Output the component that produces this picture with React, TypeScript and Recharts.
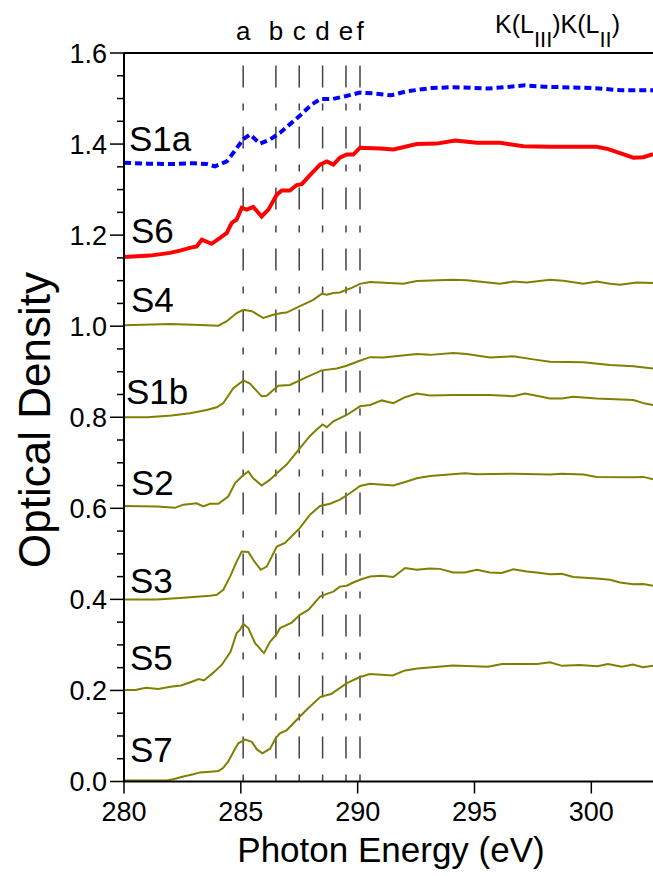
import { LineChart, Line, XAxis, YAxis, ReferenceLine } from "recharts";

// [photon energy (eV), optical density]
const S1A: [number, number][] = [
  [280, 1.359], [281, 1.357], [282, 1.356], [283, 1.358], [283.54, 1.356], [283.89, 1.351],
  [284.4, 1.362], [284.68, 1.381], [285.11, 1.411], [285.39, 1.421], [285.82, 1.401],
  [286.25, 1.41], [286.68, 1.425], [287.25, 1.45], [287.58, 1.465], [288.03, 1.487],
  [288.41, 1.499], [288.94, 1.499], [289.47, 1.505], [290.1, 1.513], [290.74, 1.511],
  [291.43, 1.507], [292.11, 1.516], [293.17, 1.523], [294.07, 1.525], [295.58, 1.522],
  [296.33, 1.525], [297.16, 1.529], [297.99, 1.526], [300.11, 1.523], [301.31, 1.518],
  [302.64, 1.518],
];

const S6: [number, number][] = [
  [280, 1.152], [281.11, 1.155], [281.97, 1.161], [282.4, 1.166], [282.82, 1.172],
  [283.11, 1.175], [283.33, 1.19], [283.75, 1.181], [284.11, 1.194], [284.4, 1.205],
  [284.61, 1.227], [284.82, 1.234], [285.04, 1.26], [285.25, 1.256], [285.53, 1.262],
  [285.89, 1.241], [286.18, 1.256], [286.54, 1.289], [286.75, 1.298], [287.1, 1.298],
  [287.39, 1.31], [287.61, 1.312], [287.89, 1.328], [288.39, 1.355], [288.68, 1.362],
  [288.96, 1.355], [289.24, 1.37], [289.53, 1.377], [289.81, 1.377], [290.1, 1.392],
  [290.96, 1.39], [291.53, 1.388], [292.53, 1.4], [293.38, 1.401], [294.17, 1.408],
  [295.1, 1.403], [296.09, 1.403], [297.09, 1.395], [298.23, 1.394], [300.23, 1.394],
  [300.73, 1.389], [301.8, 1.37], [302.23, 1.371], [302.64, 1.378],
];

const S4: [number, number][] = [
  [280, 1.002], [281.97, 1.005], [282.97, 1.003], [284.04, 1.001], [284.4, 1.011],
  [284.82, 1.029], [285.11, 1.036], [285.47, 1.033], [285.96, 1.018], [286.39, 1.025],
  [286.75, 1.029], [286.96, 1.03], [287.53, 1.044], [288.1, 1.058], [288.46, 1.071],
  [288.68, 1.069], [288.96, 1.073], [289.24, 1.074], [289.53, 1.08], [289.75, 1.084],
  [290.1, 1.093], [290.53, 1.097], [291.95, 1.093], [292.53, 1.099], [294.09, 1.102],
  [294.67, 1.101], [296.09, 1.093], [296.66, 1.098], [297.24, 1.096], [298.23, 1.102],
  [298.8, 1.1], [299.66, 1.093], [300.23, 1.098], [300.8, 1.093], [301.23, 1.091],
  [301.94, 1.096], [302.64, 1.095],
];

const S1B: [number, number][] = [
  [280, 0.8], [281, 0.8], [282.04, 0.804], [282.82, 0.809], [283.54, 0.816], [283.97, 0.822],
  [284.25, 0.831], [284.68, 0.864], [285.11, 0.881], [285.39, 0.874], [285.89, 0.846],
  [286.11, 0.847], [286.6, 0.869], [287.1, 0.871], [287.82, 0.888], [288.46, 0.903],
  [289.1, 0.907], [289.53, 0.913], [290.03, 0.923], [290.53, 0.932], [291.1, 0.931],
  [292.53, 0.939], [293.1, 0.937], [294.09, 0.941], [294.67, 0.939], [295.66, 0.931],
  [296.66, 0.934], [297.66, 0.926], [298.23, 0.922], [299.66, 0.921], [300.8, 0.915],
  [301.8, 0.912], [302.64, 0.907],
];

const S2: [number, number][] = [
  [280, 0.605], [281.4, 0.604], [282.18, 0.601], [282.54, 0.608], [283.11, 0.611],
  [283.39, 0.604], [283.68, 0.61], [284.04, 0.61], [284.46, 0.626], [284.75, 0.655],
  [285.04, 0.67], [285.32, 0.681], [285.53, 0.666], [285.89, 0.65], [286.25, 0.663],
  [286.54, 0.677], [286.96, 0.696], [287.53, 0.732], [287.96, 0.759], [288.25, 0.773],
  [288.5, 0.784], [288.68, 0.778], [288.96, 0.791], [289.53, 0.805], [290.1, 0.824],
  [290.53, 0.827], [291.03, 0.837], [291.53, 0.831], [292.03, 0.844], [292.53, 0.852],
  [293.1, 0.848], [294.09, 0.849], [295.66, 0.849], [296.66, 0.846], [297.16, 0.852],
  [297.66, 0.847], [298.23, 0.841], [298.73, 0.841], [299.23, 0.845], [300.23, 0.841],
  [301.8, 0.838], [302.3, 0.83], [302.64, 0.827],
];

const S3: [number, number][] = [
  [280, 0.4], [281.4, 0.4], [282.4, 0.403], [283.11, 0.406], [283.68, 0.408], [283.97, 0.41],
  [284.25, 0.421], [284.54, 0.45], [284.82, 0.483], [285.04, 0.505], [285.32, 0.504],
  [285.53, 0.487], [285.85, 0.465], [286.11, 0.472], [286.54, 0.516], [286.89, 0.524],
  [287.53, 0.557], [287.96, 0.586], [288.39, 0.605], [288.82, 0.61], [289.24, 0.619],
  [289.67, 0.633], [290.1, 0.649], [290.53, 0.654], [291.53, 0.65], [292.1, 0.659],
  [292.53, 0.666], [293.1, 0.671], [294.59, 0.677], [295.1, 0.675], [296.66, 0.676],
  [298.23, 0.674], [298.73, 0.676], [299.66, 0.674], [300.23, 0.669], [301.8, 0.668],
  [302.23, 0.669], [302.64, 0.664],
];

const S5: [number, number][] = [
  [280, 0.201], [280.48, 0.201], [280.94, 0.206], [281.46, 0.203], [281.99, 0.208],
  [282.44, 0.211], [282.9, 0.219], [283.2, 0.225], [283.42, 0.222], [283.8, 0.238],
  [284.18, 0.256], [284.56, 0.285], [284.82, 0.326], [284.96, 0.333], [285.11, 0.346],
  [285.32, 0.337], [285.61, 0.304], [285.99, 0.282], [286.25, 0.307], [286.54, 0.324],
  [286.68, 0.337], [287.18, 0.349], [287.53, 0.366], [287.89, 0.377], [288.39, 0.406],
  [288.68, 0.412], [288.96, 0.417], [289.24, 0.428], [289.53, 0.43], [289.81, 0.437],
  [290.1, 0.443], [290.53, 0.45], [291.03, 0.452], [291.53, 0.449], [292.03, 0.469],
  [292.53, 0.465], [293.1, 0.468], [293.52, 0.467], [294.09, 0.459], [294.59, 0.459],
  [295.1, 0.465], [295.66, 0.459], [296.16, 0.458], [296.66, 0.466], [297.24, 0.461],
  [297.66, 0.459], [298.23, 0.455], [298.73, 0.456], [299.23, 0.449], [300.23, 0.446],
  [300.8, 0.443], [301.23, 0.437], [301.8, 0.433], [302.23, 0.434], [302.64, 0.43],
];

const S7: [number, number][] = [
  [280, 0.002], [281.83, 0.002], [282.11, 0.005], [282.54, 0.011], [282.97, 0.016],
  [283.25, 0.02], [283.82, 0.022], [284.04, 0.023], [284.25, 0.03], [284.46, 0.044],
  [284.68, 0.065], [284.89, 0.084], [285.18, 0.092], [285.47, 0.087], [285.68, 0.071],
  [285.92, 0.062], [286.25, 0.072], [286.49, 0.095], [286.67, 0.106], [286.97, 0.113],
  [287.5, 0.141], [287.88, 0.161], [288.41, 0.186], [288.86, 0.192], [289.54, 0.216],
  [290.07, 0.229], [290.52, 0.236], [291.5, 0.233], [292.03, 0.244], [292.56, 0.248],
  [294.07, 0.255], [295.58, 0.252], [296.18, 0.258], [297.69, 0.258], [298.22, 0.262],
  [298.75, 0.254], [299.5, 0.256], [300.26, 0.253], [300.71, 0.258], [301.31, 0.252],
  [301.77, 0.257], [302.22, 0.251], [302.64, 0.254],
];

const FEATURE_ENERGIES = [285.1, 286.5, 287.5, 288.5, 289.5, 290.1];
const FEATURE_LABELS = ["a", "b", "c", "d", "e", "f"];

const X_TICKS = [280, 285, 290, 295, 300];
const Y_TICKS = [
  0, 0.05, 0.1, 0.15, 0.2, 0.25, 0.3, 0.35, 0.4, 0.45, 0.5, 0.55, 0.6, 0.65, 0.7, 0.75, 0.8,
  0.85, 0.9, 0.95, 1.0, 1.05, 1.1, 1.15, 1.2, 1.25, 1.3, 1.35, 1.4, 1.45, 1.5, 1.55, 1.6,
];

const OLIVE = "#808000";

const SERIES = [
  { name: "S1a", points: S1A, color: "#0000ff", width: 4, dash: "7 4" },
  { name: "S6", points: S6, color: "#ff0000", width: 4, dash: undefined },
  { name: "S4", points: S4, color: OLIVE, width: 2, dash: undefined },
  { name: "S1b", points: S1B, color: OLIVE, width: 2, dash: undefined },
  { name: "S2", points: S2, color: OLIVE, width: 2, dash: undefined },
  { name: "S3", points: S3, color: OLIVE, width: 2, dash: undefined },
  { name: "S5", points: S5, color: OLIVE, width: 2, dash: undefined },
  { name: "S7", points: S7, color: OLIVE, width: 2, dash: undefined },
];

// where the sample names sit (left edge, baseline)
const NAME_POS: Record<string, [number, number]> = {
  S1a: [129, 151],
  S6: [131, 243],
  S4: [131, 312],
  S1b: [126, 404],
  S2: [131, 495],
  S3: [130, 593],
  S5: [130, 670],
  S7: [130, 762],
};

const FONT = "'Liberation Sans', Arial, sans-serif";

function YTick(props: any) {
  const { x, y, payload } = props;
  const v = payload.value as number;
  const major = Math.abs(v * 5 - Math.round(v * 5)) < 1e-6;
  return (
    <g>
      <line x1={x - (major ? 14 : 7)} x2={x} y1={y} y2={y} stroke="#000" strokeWidth={1.5} />
      {major && (
        <text x={x - 17} y={y} dy={9.5} textAnchor="end" fontSize={27} fill="#000" fontFamily={FONT}>
          {v.toFixed(1)}
        </text>
      )}
    </g>
  );
}

export default function App() {
  return (
    <div style={{ position: "absolute", left: 0, top: 0, width: 653, height: 876, background: "#fff", fontFamily: FONT }}>
      <LineChart width={653} height={876} margin={{ top: 53, right: 0, bottom: 0, left: 0 }}>
        <XAxis
          type="number"
          dataKey="e"
          domain={[280, 302.64]}
          ticks={X_TICKS}
          allowDataOverflow
          height={94.5}
          tickSize={12}
          tickMargin={8}
          axisLine={{ stroke: "#000", strokeWidth: 2 }}
          tickLine={{ stroke: "#000", strokeWidth: 1.5 }}
          tick={{ fontSize: 27, fill: "#000", fontFamily: FONT }}
        />
        <YAxis
          type="number"
          domain={[0, 1.6]}
          ticks={Y_TICKS}
          allowDataOverflow
          width={124}
          tickSize={0}
          tickMargin={0}
          tickLine={false}
          axisLine={{ stroke: "#000", strokeWidth: 2 }}
          tick={<YTick />}
          interval={0}
        />
        <ReferenceLine y={1.6} stroke="#000" strokeWidth={2} />
        {FEATURE_ENERGIES.map((e, i) => (
          <ReferenceLine
            key={FEATURE_LABELS[i]}
            x={e}
            stroke="#444"
            strokeWidth={1.5}
            strokeDasharray="7 16 22 16"
            label={{ value: FEATURE_LABELS[i], position: "top", offset: 13, fontSize: 26, fill: "#000", fontFamily: FONT }}
          />
        ))}
        {SERIES.map((s) => (
          <Line
            key={s.name}
            data={s.points.map(([e, v]) => ({ e, v }))}
            dataKey="v"
            type="linear"
            stroke={s.color}
            strokeWidth={s.width}
            strokeDasharray={s.dash}
            dot={false}
            isAnimationActive={false}
          />
        ))}
      </LineChart>
      <svg width={653} height={876} style={{ position: "absolute", left: 0, top: 0, pointerEvents: "none" }} fontFamily={FONT}>
        {SERIES.map((s) => (
          <text key={s.name} x={NAME_POS[s.name][0]} y={NAME_POS[s.name][1]} fontSize={35} fill="#000">
            {s.name}
          </text>
        ))}
        <text x={495} y={33} fontSize={25} fill="#000">
          K(L<tspan dy={14} fontSize={22}>III</tspan>
          <tspan dy={-14}>)K(L</tspan>
          <tspan dy={14} fontSize={22}>II</tspan>
          <tspan dy={-14}>)</tspan>
        </text>
        <text x={391} y={862} fontSize={35} textAnchor="middle" fill="#000">
          Photon Energy (eV)
        </text>
        <text transform="translate(50,420) rotate(-90)" fontSize={44} textAnchor="middle" fill="#000">
          Optical Density
        </text>
      </svg>
    </div>
  );
}
